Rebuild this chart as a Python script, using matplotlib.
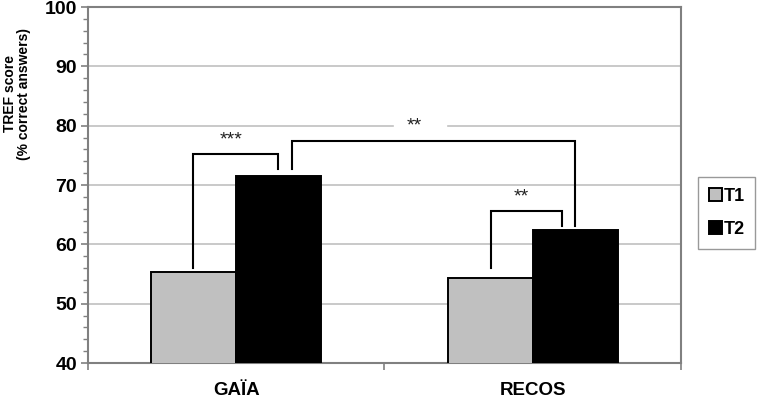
import matplotlib
matplotlib.use("Agg")
import matplotlib.pyplot as plt
import numpy as np

plt.rcParams['font.family'] = ['Liberation Sans', 'DejaVu Sans']

categories = ["GAÏA", "RECOS"]
series_names = ["T1", "T2"]
t1_values = [55.3, 54.3]
t2_values = [71.5, 62.5]
y_ticks = [40, 50, 60, 70, 80, 90, 100]

# brackets: (x_left, y_left_bottom, x_right, y_right_bottom, y_top, label, text_x, text_y)
brackets = [
    (-0.145, 56.0, 0.142, 72.7, 75.2, "***", -0.017, 77.6),
    (0.858, 56.0, 1.098, 63.1, 65.6, "**", 0.963, 68.0),
    (0.189, 72.7, 1.142, 63.1, 77.4, "**", 0.600, 79.9),
]
grid_gap_value = 80
grid_gap_x = (0.527, 0.713)

fig = plt.figure(figsize=(7.58, 3.98), dpi=100)
ax = fig.add_axes([0.1161, 0.0879, 0.8984 - 0.1161, 0.9824 - 0.0879])

x = np.arange(len(categories))
w = 0.287
ax.bar(x - w / 2, t1_values, w, color="#c0c0c0", edgecolor="black", linewidth=1.4, label=series_names[0], zorder=3)
ax.bar(x + w / 2, t2_values, w, color="black", edgecolor="black", linewidth=1.4, label=series_names[1], zorder=3)

ax.set_xlim(-0.5, 1.5)
ax.set_ylim(40, 100)
ax.set_yticks(y_ticks)
ax.set_yticklabels([str(v) for v in y_ticks], fontsize=14, fontweight="bold")
ax.set_yticks(np.arange(40, 101, 2), minor=True)

ax.set_xticks([-0.5, 0.5, 1.5])
ax.set_xticklabels([])
ax.set_xticks(x, minor=True)
ax.set_xticklabels(categories, minor=True, fontsize=13.5, fontweight="bold")
ax.tick_params(axis="x", which="minor", length=0, pad=14)
ax.tick_params(axis="x", which="major", length=5, color="#808080", width=1.2)
ax.tick_params(axis="y", which="major", length=5, color="#808080", width=1.2, pad=3)
ax.tick_params(axis="y", which="minor", length=3.5, color="#808080", width=1.0)

for s in ax.spines.values():
    s.set_color("#808080")
    s.set_linewidth(1.5)

for yv in y_ticks[1:-1]:
    if yv == grid_gap_value:
        ax.plot([-0.5, grid_gap_x[0]], [yv, yv], color="#c0c0c0", linewidth=1.2, zorder=1)
        ax.plot([grid_gap_x[1], 1.5], [yv, yv], color="#c0c0c0", linewidth=1.2, zorder=1)
    else:
        ax.axhline(yv, color="#c0c0c0", linewidth=1.2, zorder=1)

for xl, yl, xr, yr, yt, lab, tx, ty in brackets:
    ax.plot([xl, xl, xr, xr], [yl, yt, yt, yr], color="black", linewidth=1.5, zorder=4, solid_joinstyle="miter")
    ax.text(tx, ty, lab, ha="center", va="center", fontsize=14, zorder=5, color="#222222")

fig.text(0.022, 0.764, "TREF score\n(% correct answers)", rotation=90, ha="center", va="center",
         fontsize=10, fontweight="bold", linespacing=1.0)

leg = fig.legend(loc="center left", bbox_to_anchor=(0.921, 0.465), frameon=True, fancybox=False,
                 prop={"weight": "bold", "size": 13}, handlelength=0.7, handleheight=0.7,
                 handletextpad=0.1, borderpad=0.6, labelspacing=0.9, borderaxespad=0)
leg.get_frame().set_edgecolor("#808080")
leg.get_frame().set_linewidth(1.0)

fig.savefig("out.png", dpi=100)
